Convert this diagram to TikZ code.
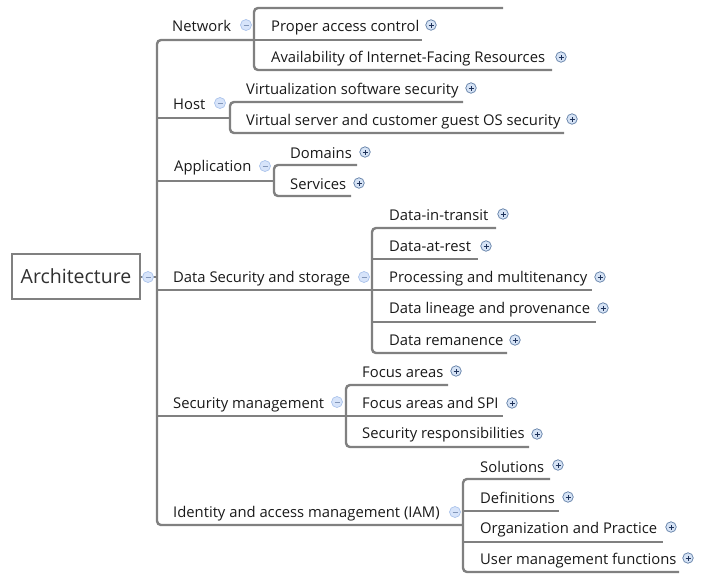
\documentclass[tikz,border=0pt]{standalone}
\usepackage{fontspec}
\setmainfont{Open Sans}
\definecolor{linegray}{RGB}{128,128,128}
\definecolor{txt}{RGB}{25,25,25}
\definecolor{plusfill}{RGB}{214,227,245}
\definecolor{plusdraw}{RGB}{95,125,165}
\definecolor{plussign}{RGB}{30,50,90}
\definecolor{minusfill}{RGB}{215,228,250}
\definecolor{minusdraw}{RGB}{170,195,235}
\definecolor{minussign}{RGB}{130,150,185}
\tikzset{
  conn/.style={draw=linegray, line width=2.4pt, rounded corners=4pt},
  lbl/.style={anchor=base west, inner sep=0pt, text=txt, font=\fontsize{14.8}{17}\selectfont, yshift=-1pt},
  rootbox/.style={draw=linegray, line width=2pt, fill=white, minimum width=128pt, minimum height=45pt, inner sep=0pt, text=txt!90!white, font=\fontsize{19.5}{22}\selectfont},
  plusicon/.style={circle, draw=plusdraw, fill=plusfill, line width=0.7pt, minimum size=10.5pt, inner sep=0pt,
    path picture={\draw[plussign, line width=0.8pt] ([xshift=-2.5pt]path picture bounding box.center) -- ([xshift=2.5pt]path picture bounding box.center) ([yshift=-2.5pt]path picture bounding box.center) -- ([yshift=2.5pt]path picture bounding box.center);}},
  minusicon/.style={circle, draw=minusdraw, fill=minusfill, line width=0.7pt, minimum size=11pt, inner sep=0pt,
    path picture={\draw[minussign, line width=0.8pt] ([xshift=-2.5pt]path picture bounding box.center) -- ([xshift=2.5pt]path picture bounding box.center);}},
}
\begin{document}
\begin{tikzpicture}[x=1pt,y=-1pt]
\useasboundingbox (0,0) rectangle (703,574);
% root
\node[rootbox] (root) at (76,276.5) {Architecture};
\coordinate (rootjoin) at (157,277);
\draw[conn] (root.east |- rootjoin) -- (rootjoin);
% main bracket
\coordinate (netB) at (254,40);
\coordinate (iamB) at (463,525);
\draw[conn] (netB) -- (157,40) -- (157,525) -- (iamB);
\coordinate (hostB) at (230,118);
\coordinate (appB) at (274,181);
\coordinate (dataB) at (372,290);
\coordinate (secB) at (346,416);
\draw[conn] (157,118) -- (hostB);
\draw[conn] (157,181) -- (appB);
\draw[conn] (157,290) -- (dataB);
\draw[conn] (157,416) -- (secB);
% network children
\draw[conn] (503,8) -- (254,8) -- (254,70) -- (552,70);
\draw[conn] (254,40) -- (422,40);
% host children
\draw[conn] (463,102) -- (230,102) -- (230,133) -- (564,133);
% application children
\draw[conn] (357,165) -- (274,165) -- (274,196) -- (351,196);
% data children
\draw[conn] (496,228) -- (372,228) -- (372,353) -- (507,353);
\draw[conn] (372,259) -- (478,259);
\draw[conn] (372,290) -- (592,290);
\draw[conn] (372,322) -- (596,322);
% security management children
\draw[conn] (448,385) -- (346,385) -- (346,447) -- (529,447);
\draw[conn] (346,416) -- (503,416);
% IAM children
\draw[conn] (550,479) -- (463,479) -- (463,572) -- (679,572);
\draw[conn] (463,511) -- (559,511);
\draw[conn] (463,542) -- (663,542);
% labels
\node[lbl] (net) at (172,30.5) {Network};
\node[lbl] (pac) at (271,30.5) {Proper access control};
\node[lbl] (avl) at (271,61.5) {Availability of Internet-Facing Resources};
\node[lbl] (host) at (173,108.5) {Host};
\node[lbl] (vss) at (246,93.5) {Virtualization software security};
\node[lbl] (vsg) at (246,124.5) {Virtual server and customer guest OS security};
\node[lbl] (app) at (174,170.5) {Application};
\node[lbl] (dom) at (290,157.5) {Domains};
\node[lbl] (srv) at (290,188.5) {Services};
\node[lbl] (data) at (173,281.5) {Data Security and storage};
\node[lbl] (dit) at (389,219.5) {Data-in-transit};
\node[lbl] (dar) at (389,250.5) {Data-at-rest};
\node[lbl] (pm) at (389,281.5) {Processing and multitenancy};
\node[lbl] (dlp) at (389,312.5) {Data lineage and provenance};
\node[lbl] (drm) at (389,344.5) {Data remanence};
\node[lbl] (sec) at (173,407.5) {Security management};
\node[lbl] (fa) at (362,376.5) {Focus areas};
\node[lbl] (fas) at (362,407.5) {Focus areas and SPI};
\node[lbl] (sr) at (362,437.5) {Security responsibilities};
\node[lbl] (iam) at (173,516.5) {Identity and access management (IAM)};
\node[lbl] (sol) at (480,471.5) {Solutions};
\node[lbl] (def) at (480,502.5) {Definitions};
\node[lbl] (op) at (480,532.5) {Organization and Practice};
\node[lbl] (umf) at (480,563.5) {User management functions};
% minus icons
\node[minusicon] (mroot) at (148,277) {};
\node[minusicon] (mnet) at (246,25) {};
\node[minusicon] (mhost) at (220,103) {};
\node[minusicon] (mapp) at (265,166) {};
\node[minusicon] (mdata) at (364,277) {};
\node[minusicon] (msec) at (337,402) {};
\node[minusicon] (miam) at (455,512) {};
% plus icons
\node[plusicon] at (431,25) {};
\node[plusicon] at (561,57) {};
\node[plusicon] at (471,88) {};
\node[plusicon] at (572,119) {};
\node[plusicon] at (365,152) {};
\node[plusicon] at (359,183) {};
\node[plusicon] at (503,214) {};
\node[plusicon] at (486,246) {};
\node[plusicon] at (600,277) {};
\node[plusicon] at (603,308) {};
\node[plusicon] at (515,340) {};
\node[plusicon] at (456,371) {};
\node[plusicon] at (512,403) {};
\node[plusicon] at (537,434) {};
\node[plusicon] at (558,465) {};
\node[plusicon] at (568,497) {};
\node[plusicon] at (671,527) {};
\node[plusicon] at (688,558) {};
\end{tikzpicture}
\end{document}
